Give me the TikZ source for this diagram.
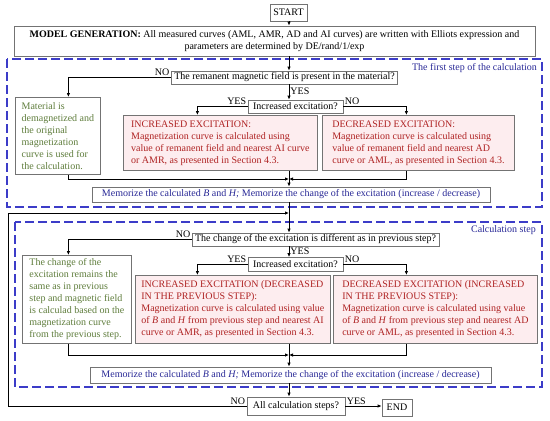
\documentclass[tikz,border=0pt]{standalone}
\usepackage{fontspec}
\setmainfont{Liberation Serif}
\usetikzlibrary{arrows.meta}
\definecolor{mgreen}{RGB}{95,125,60}
\definecolor{mred}{RGB}{175,35,35}
\definecolor{mpink}{RGB}{253,237,239}
\definecolor{mblue}{RGB}{40,40,150}
\definecolor{dblue}{RGB}{60,60,200}

\begin{document}
\begin{tikzpicture}[x=1pt, y=-1pt,
    box/.style={draw=black!55, line width=0.8pt, fill=white, inner xsep=3pt, inner ysep=1pt},
    multibox/.style={box, align=left, anchor=north west},
    greenbox/.style={multibox, text=mgreen},
    redbox/.style={multibox, text=mred, fill=mpink},
    membox/.style={box, text=mblue},
    stepframe/.style={draw=dblue, line width=1.2pt, dash pattern=on 9pt off 4pt},
    conn/.style={line width=0.9pt, -{Latex[length=4pt,width=3.5pt]}},
    lbl/.style={inner sep=1pt}]
    \useasboundingbox (0, 0) rectangle (550, 421);
    \coordinate (axis) at (289, 0);

    \draw[stepframe] (7, 59) rectangle (542, 207);
    \draw[stepframe] (15, 222) rectangle (542, 387);
    \node[lbl, text=mblue, anchor=north east] (lab1) at (538, 62) {The first step of the calculation};
    \node[lbl, text=mblue, anchor=north east] (lab2) at (537, 224) {Calculation step};

    \node[box, minimum width=37pt, minimum height=17pt] (start) at (288.5, 12.5) {START};
    \node[box, align=center, minimum width=521pt, minimum height=30pt] (model) at (274.5, 41)
        {\textbf{MODEL GENERATION:} All measured curves (AML, AMR, AD and AI curves) are written with Elliots expression and\\ parameters are determined by DE/rand/1/exp};
    \node[box, minimum height=13pt] (remanent) at (284.5, 77.5) {The remanent magnetic field is present in the material?};
    \node[box, minimum width=95pt, minimum height=13pt] (incq1) at (295.5, 106.5) {Increased excitation?};
    \node[greenbox, minimum width=85pt, minimum height=77pt] (demag) at (15, 97)
        {Material is\\ demagnetized and\\ the original\\ magnetization\\ curve is used for\\ the calculation.};
    \node[redbox, minimum width=194pt, minimum height=55pt] (incr1) at (123, 115)
        {INCREASED EXCITATION:\\ Magnetization curve is calculated using\\ value of remanent field and nearest AI curve\\ or AMR, as presented in Section 4.3.};
    \node[redbox, minimum width=192pt, minimum height=55pt] (decr1) at (322, 115)
        {DECREASED EXCITATION:\\ Magnetization curve is calculated using\\ value of remanent field and nearest AD\\ curve or AML, as presented in Section 4.3.};
    \node[membox, minimum width=398pt, minimum height=15pt] (mem1) at (291, 194.5)
        {Memorize the calculated \textit{B} and \textit{H;} Memorize the change of the excitation (increase / decrease)};

    \node[box, minimum height=13pt] (change) at (315.5, 239.5) {The change of the excitation is different as in previous step?};
    \node[box, minimum width=95pt, minimum height=14pt] (incq2) at (295.5, 264.5) {Increased excitation?};
    \node[greenbox, minimum width=109pt, minimum height=88pt] (same) at (22, 255)
        {The change of the\\ excitation remains the\\ same as in previous\\ step and magnetic field\\ is calculad based on the\\ magnetization curve\\ from the previous step.};
    \node[redbox, minimum width=195pt, minimum height=68pt] (incr2) at (135, 275)
        {INCREASED EXCITATION (DECREASED\\ IN THE PREVIOUS STEP):\\ Magnetization curve is calculated using value\\ of \textit{B} and \textit{H} from previous step and nearest AI\\ curve or AMR, as presented in Section 4.3.};
    \node[redbox, minimum width=204pt, minimum height=68pt] (decr2) at (333, 275)
        {DECREASED EXCITATION (INCREASED\\ IN THE PREVIOUS STEP):\\ Magnetization curve is calculated using value\\ of \textit{B} and \textit{H} from previous step and nearest AD\\ curve or AML, as presented in Section 4.3.};
    \node[membox, minimum width=401pt, minimum height=16pt] (mem2) at (290.5, 375)
        {Memorize the calculated \textit{B} and \textit{H;} Memorize the change of the excitation (increase / decrease)};
    \node[box, minimum width=98pt, minimum height=18pt] (allsteps) at (296, 406) {All calculation steps?};
    \node[box, minimum width=30pt, minimum height=17pt] (end) at (397, 407.5) {END};

    \draw[conn] (start.south -| axis) -- (model.north -| axis);
    \draw[conn] (model.south -| axis) -- (remanent.north -| axis);
    \draw[conn] (remanent.west) node[lbl, anchor=south east] {NO} -| ([xshift=10.5pt]demag.north);
    \draw[conn] (remanent.south -| axis) -- (incq1.north -| axis) node[lbl, pos=0.45, right] {YES};
    \draw[conn] (incq1.west) node[lbl, anchor=south east] {YES} -| ([xshift=-23pt]incr1.north);
    \draw[conn] (incq1.east) node[lbl, anchor=south west] {NO} -| ([xshift=-12pt]decr1.north);
    \coordinate (join1) at (289, 179);
    \draw[conn] ([xshift=10.5pt]demag.south) |- (join1);
    \draw[conn] ([xshift=-12pt]decr1.south) |- (join1);
    \draw[conn] (incr1.south -| axis) -- (mem1.north -| axis);
    \draw[conn] (mem1.south -| axis) -- (change.north -| axis);

    \draw[conn] (change.west) node[lbl, anchor=south east] {NO} -| ([xshift=-8.5pt]same.north);
    \draw[conn] (change.south -| axis) -- (incq2.north -| axis) node[lbl, pos=0.45, right] {YES};
    \draw[conn] (incq2.west) node[lbl, anchor=south east] {YES} -| ([xshift=-35.5pt]incr2.north);
    \draw[conn] (incq2.east) node[lbl, anchor=south west] {NO} -| ([xshift=-29pt]decr2.north);
    \coordinate (join2) at (289, 355);
    \draw[conn] ([xshift=-8.5pt]same.south) |- (join2);
    \draw[conn] ([xshift=-29pt]decr2.south) |- (join2);
    \draw[conn] (incr2.south -| axis) -- (mem2.north -| axis);
    \draw[conn] (mem2.south -| axis) -- (allsteps.north -| axis);

    \coordinate (loop) at (8, 213);
    \draw[conn] (allsteps.west) node[lbl, anchor=south east] {NO} -| (loop) -- (loop -| axis);
    \draw[conn] (allsteps.east) node[lbl, anchor=south west] {YES} -- (allsteps.east -| end.west);
\end{tikzpicture}
\end{document}
